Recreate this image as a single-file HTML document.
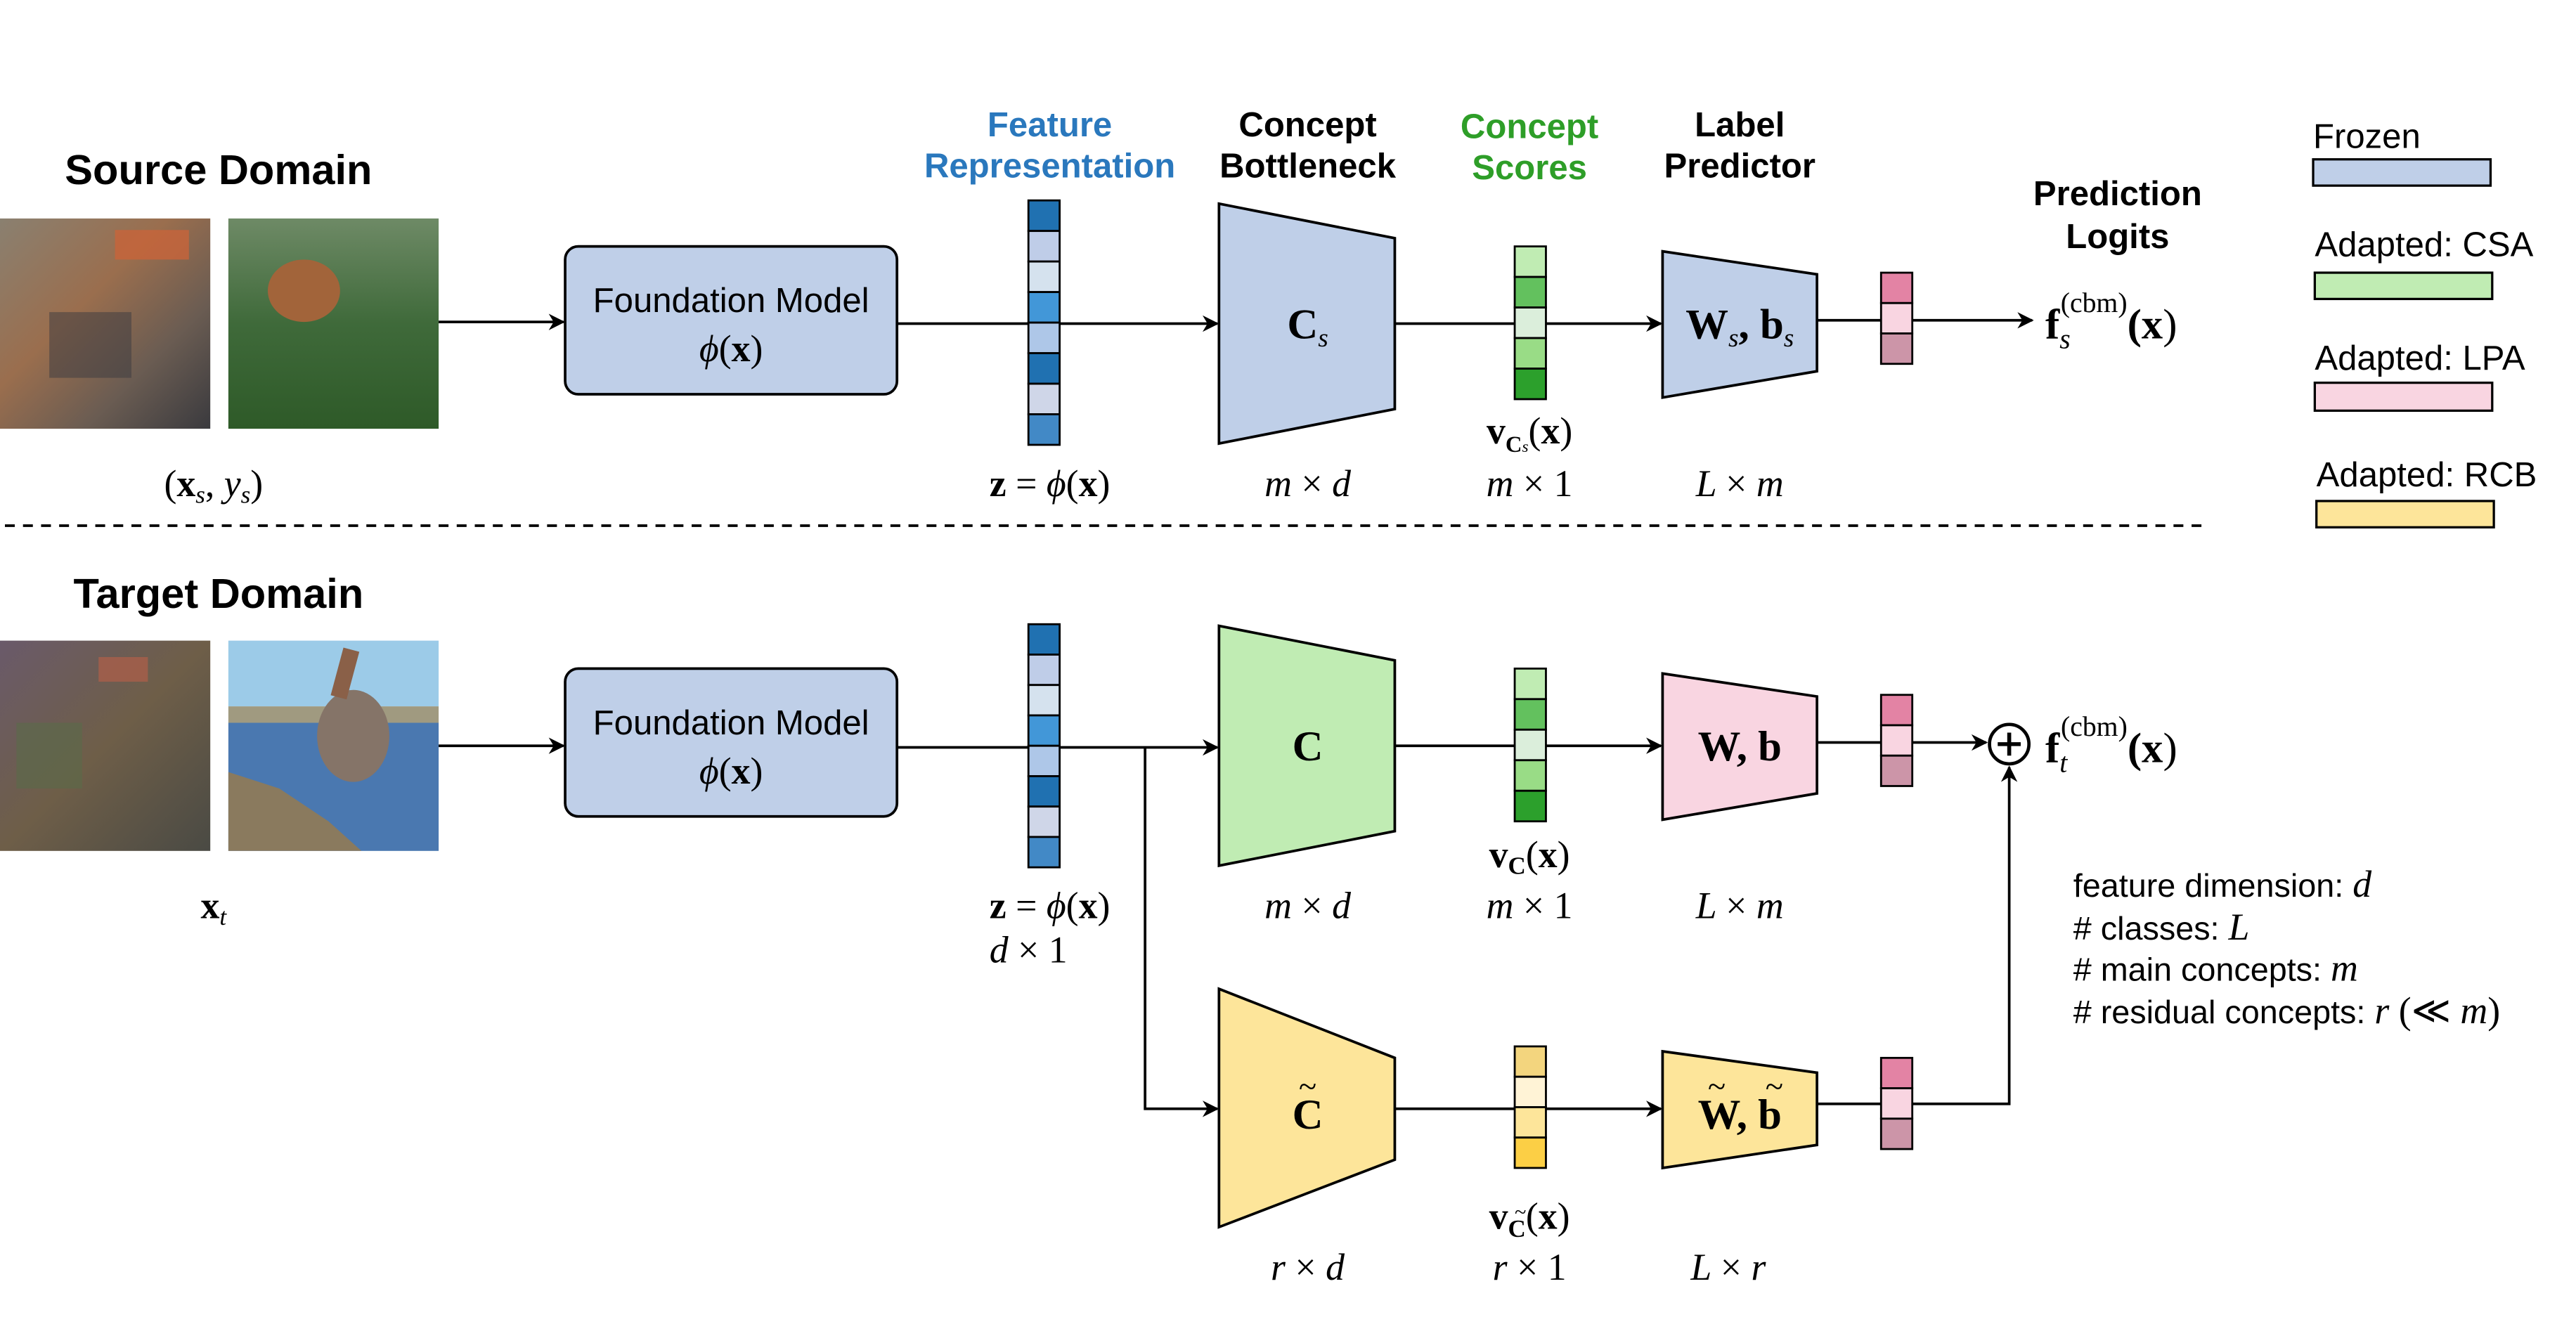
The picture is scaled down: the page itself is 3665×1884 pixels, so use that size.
<!DOCTYPE html>
<html><head><meta charset="utf-8"><style>
html,body{margin:0;padding:0;background:#fff;}
svg{display:block;}
.t{font-family:"Liberation Sans",sans-serif;}
.b{font-family:"Liberation Sans",sans-serif;font-weight:bold;}
.m{font-family:"Liberation Serif",serif;}
</style></head><body>
<svg width="3665" height="1884" viewBox="0 0 1568 806" preserveAspectRatio="none" xmlns="http://www.w3.org/2000/svg">
<defs>
<marker id="ar" markerWidth="10" markerHeight="10" refX="9" refY="5" orient="auto" markerUnits="userSpaceOnUse">
<path d="M0,0 L10,5 L0,10 L3,5 z" fill="#000"/></marker>
<linearGradient id="car1" x1="0" y1="0" x2="1" y2="1">
<stop offset="0" stop-color="#8a8070"/><stop offset="0.4" stop-color="#9a6e4e"/><stop offset="0.7" stop-color="#6a5c52"/><stop offset="1" stop-color="#3a3a3e"/></linearGradient>
<linearGradient id="forest" x1="0" y1="0" x2="0" y2="1">
<stop offset="0" stop-color="#6e8a66"/><stop offset="0.5" stop-color="#3f6a3a"/><stop offset="1" stop-color="#2e5a28"/></linearGradient>
<linearGradient id="noise" x1="0" y1="0" x2="1" y2="1">
<stop offset="0" stop-color="#6a5a6a"/><stop offset="0.5" stop-color="#6e5e48"/><stop offset="1" stop-color="#4a4a44"/></linearGradient>
</defs>
<rect width="1568" height="806" fill="#fff"/>

<text x="133" y="112" class="b" font-size="25.5" text-anchor="middle">Source Domain</text>
<text x="133" y="370" class="b" font-size="25.5" text-anchor="middle">Target Domain</text>

<rect x="0" y="133" width="128" height="128" fill="url(#car1)"/>
<rect x="70" y="140" width="45" height="18" fill="#c8643a" opacity="0.8"/>
<rect x="30" y="190" width="50" height="40" fill="#3a3a40" opacity="0.5"/>
<rect x="139" y="133" width="128" height="128" fill="url(#forest)"/>
<ellipse cx="185" cy="177" rx="22" ry="19" fill="#a2643a"/>
<rect x="0" y="390" width="128" height="128" fill="url(#noise)"/>
<rect x="60" y="400" width="30" height="15" fill="#b06048" opacity="0.7"/>
<rect x="10" y="440" width="40" height="40" fill="#5a6a4a" opacity="0.6"/>
<rect x="139" y="390" width="128" height="40" fill="#9ccbe8"/>
<rect x="139" y="430" width="128" height="10" fill="#a09a80"/>
<rect x="139" y="440" width="128" height="78" fill="#4a78b0"/>
<path d="M139,470 L170,480 L200,500 L220,518 L139,518z" fill="#8a7a5e"/>
<ellipse cx="215" cy="448" rx="22" ry="28" fill="#857468"/>
<rect x="205" y="395" width="10" height="30" fill="#8a6048" transform="rotate(15 210 410)"/>

<text x="130" y="302" class="m" font-size="23" text-anchor="middle">(<tspan font-weight="bold">x</tspan><tspan font-style="italic" font-size="15" dy="4">s</tspan><tspan dy="-4">, </tspan><tspan font-style="italic">y</tspan><tspan font-style="italic" font-size="15" dy="4">s</tspan><tspan dy="-4">)</tspan></text>
<text x="130" y="559" class="m" font-size="23" text-anchor="middle"><tspan font-weight="bold">x</tspan><tspan font-style="italic" font-size="15" dy="4">t</tspan></text>

<line x1="267" y1="196" x2="343" y2="196" stroke="#000" stroke-width="1.6" marker-end="url(#ar)"/>
<line x1="267" y1="454" x2="343" y2="454" stroke="#000" stroke-width="1.6" marker-end="url(#ar)"/>

<rect x="344" y="150" width="202" height="90" rx="8" fill="#bfcfe8" stroke="#000" stroke-width="1.6"/>
<text x="445" y="190" class="t" font-size="21" text-anchor="middle">Foundation Model</text>
<text x="445" y="220" class="m" font-size="23" text-anchor="middle"><tspan font-style="italic">ϕ</tspan>(<tspan font-weight="bold">x</tspan>)</text>
<rect x="344" y="407" width="202" height="90" rx="8" fill="#bfcfe8" stroke="#000" stroke-width="1.6"/>
<text x="445" y="447" class="t" font-size="21" text-anchor="middle">Foundation Model</text>
<text x="445" y="477" class="m" font-size="23" text-anchor="middle"><tspan font-style="italic">ϕ</tspan>(<tspan font-weight="bold">x</tspan>)</text>

<text x="639" y="83" class="b" font-size="21" text-anchor="middle" fill="#2a78bd">Feature</text>
<text x="639" y="108" class="b" font-size="21" text-anchor="middle" fill="#2a78bd">Representation</text>
<text x="796" y="83" class="b" font-size="21" text-anchor="middle">Concept</text>
<text x="796" y="108" class="b" font-size="21" text-anchor="middle">Bottleneck</text>
<text x="931" y="84" class="b" font-size="21" text-anchor="middle" fill="#2e9e28">Concept</text>
<text x="931" y="109" class="b" font-size="21" text-anchor="middle" fill="#2e9e28">Scores</text>
<text x="1059" y="83" class="b" font-size="21" text-anchor="middle">Label</text>
<text x="1059" y="108" class="b" font-size="21" text-anchor="middle">Predictor</text>
<text x="1289" y="125" class="b" font-size="21" text-anchor="middle">Prediction</text>
<text x="1289" y="151" class="b" font-size="21" text-anchor="middle">Logits</text>

<line x1="546" y1="197" x2="741" y2="197" stroke="#000" stroke-width="1.6" marker-end="url(#ar)"/>
<line x1="849" y1="197" x2="1011" y2="197" stroke="#000" stroke-width="1.6" marker-end="url(#ar)"/>
<line x1="1106" y1="195" x2="1237" y2="195" stroke="#000" stroke-width="1.6" marker-end="url(#ar)"/>

<g stroke="#000" stroke-width="1.2">
<rect x="626" y="122" width="19" height="18.6" fill="#2071b1"/>
<rect x="626" y="140.6" width="19" height="18.6" fill="#bfcde8"/>
<rect x="626" y="159.2" width="19" height="18.6" fill="#d5e2ee"/>
<rect x="626" y="177.8" width="19" height="18.6" fill="#4297d8"/>
<rect x="626" y="196.4" width="19" height="18.6" fill="#aec7e8"/>
<rect x="626" y="215" width="19" height="18.6" fill="#2071b1"/>
<rect x="626" y="233.6" width="19" height="18.6" fill="#cfd6e8"/>
<rect x="626" y="252.2" width="19" height="18.6" fill="#4289c6"/>
</g>
<polygon points="742,124 849,145 849,249 742,270" fill="#bfcfe8" stroke="#000" stroke-width="1.6"/>
<text x="796" y="206" class="m" font-size="26" text-anchor="middle" font-weight="bold">C<tspan font-style="italic" font-weight="normal" font-size="16" dy="5">s</tspan></text>
<g stroke="#000" stroke-width="1.2">
<rect x="922" y="150" width="19" height="18.6" fill="#c0ecb3"/>
<rect x="922" y="168.6" width="19" height="18.6" fill="#63c15e"/>
<rect x="922" y="187.2" width="19" height="18.6" fill="#dbeedb"/>
<rect x="922" y="205.8" width="19" height="18.6" fill="#99dc86"/>
<rect x="922" y="224.4" width="19" height="18.6" fill="#2ca02c"/>
</g>
<polygon points="1012,153 1106,167 1106,226 1012,242" fill="#bfcfe8" stroke="#000" stroke-width="1.6"/>
<text x="1059" y="206" class="m" font-size="26" text-anchor="middle" font-weight="bold">W<tspan font-style="italic" font-weight="normal" font-size="16" dy="5">s</tspan><tspan dy="-5">, b</tspan><tspan font-style="italic" font-weight="normal" font-size="16" dy="5">s</tspan></text>
<g stroke="#000" stroke-width="1.2">
<rect x="1145" y="166" width="19" height="18.5" fill="#e383a4"/>
<rect x="1145" y="184.5" width="19" height="18.5" fill="#f9d5e1"/>
<rect x="1145" y="203" width="19" height="18.5" fill="#cc95a8"/>
</g>
<text x="1245" y="206" class="m" font-size="26" font-weight="bold">f<tspan font-style="italic" font-weight="normal" font-size="17" dy="6">s</tspan><tspan font-weight="normal" font-size="17" dy="-22" dx="-6">(cbm)</tspan><tspan dy="16">(</tspan>x<tspan font-weight="normal">)</tspan></text>

<text x="639" y="302" class="m" font-size="23" text-anchor="middle"><tspan font-weight="bold">z</tspan> = <tspan font-style="italic">ϕ</tspan>(<tspan font-weight="bold">x</tspan>)</text>
<text x="796" y="302" class="m" font-size="23" text-anchor="middle" font-style="italic">m <tspan font-style="normal">×</tspan> d</text>
<text x="931" y="270" class="m" font-size="23" text-anchor="middle"><tspan font-weight="bold">v</tspan><tspan font-size="14" dy="5" font-weight="bold">C<tspan font-style="italic" font-weight="normal" font-size="10">s</tspan></tspan><tspan dy="-5">(</tspan><tspan font-weight="bold">x</tspan>)</text>
<text x="931" y="302" class="m" font-size="23" text-anchor="middle"><tspan font-style="italic">m</tspan> × 1</text>
<text x="1059" y="302" class="m" font-size="23" text-anchor="middle" font-style="italic">L <tspan font-style="normal">×</tspan> m</text>

<line x1="3" y1="320" x2="1340" y2="320" stroke="#000" stroke-width="1.6" stroke-dasharray="6,5"/>

<text x="1408" y="90" class="t" font-size="21">Frozen</text>
<rect x="1408" y="97" width="108" height="16" fill="#bfcfe8" stroke="#000" stroke-width="1.4"/>
<text x="1409" y="156" class="t" font-size="21">Adapted: CSA</text>
<rect x="1409" y="166" width="108" height="16" fill="#c0ecb3" stroke="#000" stroke-width="1.4"/>
<text x="1409" y="225" class="t" font-size="21">Adapted: LPA</text>
<rect x="1409" y="233" width="108" height="17" fill="#f9d5e1" stroke="#000" stroke-width="1.4"/>
<text x="1410" y="296" class="t" font-size="21">Adapted: RCB</text>
<rect x="1410" y="305" width="108" height="16" fill="#fde59a" stroke="#000" stroke-width="1.4"/>

<line x1="546" y1="455" x2="741" y2="455" stroke="#000" stroke-width="1.6" marker-end="url(#ar)"/>
<polyline points="697,455 697,675 741,675" fill="none" stroke="#000" stroke-width="1.6" marker-end="url(#ar)"/>
<line x1="849" y1="454" x2="1011" y2="454" stroke="#000" stroke-width="1.6" marker-end="url(#ar)"/>
<line x1="1106" y1="452" x2="1209" y2="452" stroke="#000" stroke-width="1.6" marker-end="url(#ar)"/>
<line x1="849" y1="675" x2="1011" y2="675" stroke="#000" stroke-width="1.6" marker-end="url(#ar)"/>
<polyline points="1106,672 1223,672 1223,467" fill="none" stroke="#000" stroke-width="1.6" marker-end="url(#ar)"/>
<circle cx="1223" cy="453" r="12" fill="#fff" stroke="#000" stroke-width="2"/>
<line x1="1216" y1="453" x2="1230" y2="453" stroke="#000" stroke-width="2.4"/>
<line x1="1223" y1="446" x2="1223" y2="460" stroke="#000" stroke-width="2.4"/>
<text x="1245" y="464" class="m" font-size="26" font-weight="bold">f<tspan font-style="italic" font-weight="normal" font-size="17" dy="6">t</tspan><tspan font-weight="normal" font-size="17" dy="-22" dx="-4">(cbm)</tspan><tspan dy="16">(</tspan>x<tspan font-weight="normal">)</tspan></text>

<g stroke="#000" stroke-width="1.2">
<rect x="626" y="380" width="19" height="18.5" fill="#2071b1"/>
<rect x="626" y="398.5" width="19" height="18.5" fill="#bfcde8"/>
<rect x="626" y="417" width="19" height="18.5" fill="#d5e2ee"/>
<rect x="626" y="435.5" width="19" height="18.5" fill="#4297d8"/>
<rect x="626" y="454" width="19" height="18.5" fill="#aec7e8"/>
<rect x="626" y="472.5" width="19" height="18.5" fill="#2071b1"/>
<rect x="626" y="491" width="19" height="18.5" fill="#cfd6e8"/>
<rect x="626" y="509.5" width="19" height="18.5" fill="#4289c6"/>
</g>
<polygon points="742,381 849,402 849,506 742,527" fill="#c0ecb3" stroke="#000" stroke-width="1.6"/>
<text x="796" y="463" class="m" font-size="26" text-anchor="middle" font-weight="bold">C</text>
<g stroke="#000" stroke-width="1.2">
<rect x="922" y="407" width="19" height="18.6" fill="#c0ecb3"/>
<rect x="922" y="425.6" width="19" height="18.6" fill="#63c15e"/>
<rect x="922" y="444.2" width="19" height="18.6" fill="#dbeedb"/>
<rect x="922" y="462.8" width="19" height="18.6" fill="#99dc86"/>
<rect x="922" y="481.4" width="19" height="18.6" fill="#2ca02c"/>
</g>
<polygon points="1012,410 1106,424 1106,483 1012,499" fill="#f9d5e1" stroke="#000" stroke-width="1.6"/>
<text x="1059" y="463" class="m" font-size="26" text-anchor="middle" font-weight="bold">W, b</text>
<g stroke="#000" stroke-width="1.2">
<rect x="1145" y="423" width="19" height="18.5" fill="#e383a4"/>
<rect x="1145" y="441.5" width="19" height="18.5" fill="#f9d5e1"/>
<rect x="1145" y="460" width="19" height="18.5" fill="#cc95a8"/>
</g>
<text x="639" y="559" class="m" font-size="23" text-anchor="middle"><tspan font-weight="bold">z</tspan> = <tspan font-style="italic">ϕ</tspan>(<tspan font-weight="bold">x</tspan>)</text>
<text x="626" y="586" class="m" font-size="23" text-anchor="middle"><tspan font-style="italic">d</tspan> × 1</text>
<text x="796" y="559" class="m" font-size="23" text-anchor="middle" font-style="italic">m <tspan font-style="normal">×</tspan> d</text>
<text x="931" y="528" class="m" font-size="23" text-anchor="middle"><tspan font-weight="bold">v</tspan><tspan font-size="15" dy="4" font-weight="bold">C</tspan><tspan dy="-4">(</tspan><tspan font-weight="bold">x</tspan>)</text>
<text x="931" y="559" class="m" font-size="23" text-anchor="middle"><tspan font-style="italic">m</tspan> × 1</text>
<text x="1059" y="559" class="m" font-size="23" text-anchor="middle" font-style="italic">L <tspan font-style="normal">×</tspan> m</text>

<polygon points="742,602 849,644 849,706 742,747" fill="#fde59a" stroke="#000" stroke-width="1.6"/>
<text x="796" y="687" class="m" font-size="26" text-anchor="middle" font-weight="bold">C</text>
<text x="796" y="668" class="m" font-size="20" text-anchor="middle">~</text>
<g stroke="#000" stroke-width="1.2">
<rect x="922" y="637" width="19" height="18.5" fill="#f3d57e"/>
<rect x="922" y="655.5" width="19" height="18.5" fill="#fff3d6"/>
<rect x="922" y="674" width="19" height="18.5" fill="#fde59a"/>
<rect x="922" y="692.5" width="19" height="18.5" fill="#fccf45"/>
</g>
<polygon points="1012,640 1106,653 1106,697 1012,711" fill="#fde59a" stroke="#000" stroke-width="1.6"/>
<text x="1059" y="687" class="m" font-size="26" text-anchor="middle" font-weight="bold">W, b</text>
<text x="1045" y="668" class="m" font-size="20" text-anchor="middle">~</text>
<text x="1080" y="668" class="m" font-size="20" text-anchor="middle">~</text>
<g stroke="#000" stroke-width="1.2">
<rect x="1145" y="644" width="19" height="18.5" fill="#e383a4"/>
<rect x="1145" y="662.5" width="19" height="18.5" fill="#f9d5e1"/>
<rect x="1145" y="681" width="19" height="18.5" fill="#cc95a8"/>
</g>
<text x="931" y="748" class="m" font-size="23" text-anchor="middle"><tspan font-weight="bold">v</tspan><tspan font-size="15" dy="5" font-weight="bold">C</tspan><tspan dy="-5">(</tspan><tspan font-weight="bold">x</tspan>)</text>
<text x="922" y="742" class="m" font-size="13">~</text>
<text x="796" y="779" class="m" font-size="23" text-anchor="middle" font-style="italic">r <tspan font-style="normal">×</tspan> d</text>
<text x="931" y="779" class="m" font-size="23" text-anchor="middle"><tspan font-style="italic">r</tspan> × 1</text>
<text x="1052" y="779" class="m" font-size="23" text-anchor="middle" font-style="italic">L <tspan font-style="normal">×</tspan> r</text>

<text x="1262" y="546" class="t" font-size="20">feature dimension: <tspan font-style="italic" font-size="23" font-family="Liberation Serif,serif">d</tspan></text>
<text x="1262" y="572" class="t" font-size="20"># classes: <tspan font-style="italic" font-size="23" font-family="Liberation Serif,serif">L</tspan></text>
<text x="1262" y="597" class="t" font-size="20"># main concepts: <tspan font-style="italic" font-size="23" font-family="Liberation Serif,serif">m</tspan></text>
<text x="1262" y="623" class="t" font-size="20"># residual concepts:  <tspan font-size="23" font-family="Liberation Serif,serif"><tspan font-style="italic">r</tspan> (≪ <tspan font-style="italic">m</tspan>)</tspan></text>
</svg>
</body></html>
